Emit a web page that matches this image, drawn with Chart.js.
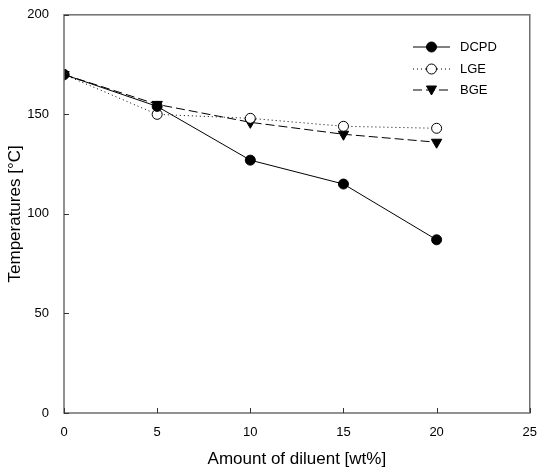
<!DOCTYPE html>
<html>
<head>
<meta charset="utf-8">
<script src="https://cdn.jsdelivr.net/npm/chart.js@4/dist/chart.umd.min.js"></script>
<style>
  html, body { margin: 0; padding: 0; background: #fff; }
  #wrap { width: 541px; height: 474px; }
</style>
</head>
<body>
<div id="wrap"><canvas id="chart" width="541" height="474"></canvas></div>
<script>
// 数据
const amounts = [0, 5, 10, 15, 20];
const dcpd = [170, 154, 127, 115, 87];
const lge = [170, 150, 148, 144, 143];
const bge = [170, 155, 146, 140, 136];
const xTicks = [0, 5, 10, 15, 20, 25];
const yTicks = [0, 50, 100, 150, 200];

const FONT = 'Liberation Sans, Arial, sans-serif';
const AXIS = '#6e6e6e';

const toXY = (ys) => amounts.map((x, i) => ({ x: x, y: ys[i] }));

// 坐标框和向内刻度
const framePlugin = {
    id: 'frame',
    afterDraw(chart) {
        const { ctx, chartArea: a, scales } = chart;
        ctx.save();
        ctx.strokeStyle = AXIS;
        ctx.lineWidth = 1.5;
        ctx.strokeRect(a.left, a.top, a.right - a.left, a.bottom - a.top);
        ctx.lineWidth = 1;
        ctx.strokeStyle = '#333';
        xTicks.forEach(v => {
            const px = Math.round(scales.x.getPixelForValue(v)) + 0.5;
            ctx.beginPath();
            ctx.moveTo(px, a.bottom);
            ctx.lineTo(px, a.bottom - 5);
            ctx.stroke();
        });
        yTicks.forEach(v => {
            const py = Math.round(scales.y.getPixelForValue(v)) + 0.5;
            ctx.beginPath();
            ctx.moveTo(a.left, py);
            ctx.lineTo(a.left + 5, py);
            ctx.stroke();
        });
        ctx.restore();
    }
};

// 图例（线 + 标记）
const legendPlugin = {
    id: 'customLegend',
    afterDatasetsDraw(chart) {
        const { ctx } = chart;
        const x0 = 413, x1 = 450, rows = [47, 69, 90];
        ctx.save();
        chart.data.datasets.forEach((ds, i) => {
            const y = rows[i];
            ctx.strokeStyle = '#000';
            ctx.lineWidth = 1;
            ctx.setLineDash(ds.borderDash || []);
            ctx.beginPath();
            ctx.moveTo(x0, y);
            ctx.lineTo(x1, y);
            ctx.stroke();
            ctx.setLineDash([]);
            const cx = (x0 + x1) / 2;
            ctx.fillStyle = ds.pointBackgroundColor;
            ctx.strokeStyle = '#000';
            ctx.beginPath();
            if (ds.pointStyle === 'triangle') {
                ctx.moveTo(cx - 5, y - 4);
                ctx.lineTo(cx + 5, y - 4);
                ctx.lineTo(cx, y + 5);
                ctx.closePath();
            } else {
                ctx.arc(cx, y, 5, 0, Math.PI * 2);
            }
            ctx.fill();
            ctx.stroke();
            ctx.fillStyle = '#000';
            ctx.font = '13px ' + FONT;
            ctx.textBaseline = 'middle';
            ctx.fillText(ds.label, 460, y);
        });
        ctx.restore();
    }
};

new Chart(document.getElementById('chart').getContext('2d'), {
    type: 'line',
    data: {
        datasets: [
            {
                label: 'DCPD',
                data: toXY(dcpd),
                borderColor: '#000',
                borderWidth: 1,
                pointStyle: 'circle',
                pointRadius: 5,
                pointBackgroundColor: '#000',
                pointBorderColor: '#000',
            },
            {
                label: 'LGE',
                data: toXY(lge),
                borderColor: '#000',
                borderWidth: 1,
                borderDash: [1, 3],
                pointStyle: 'circle',
                pointRadius: 5,
                pointBackgroundColor: '#fff',
                pointBorderColor: '#000',
            },
            {
                label: 'BGE',
                data: toXY(bge),
                borderColor: '#000',
                borderWidth: 1,
                borderDash: [9, 4],
                pointStyle: 'triangle',
                pointRotation: 180,
                pointRadius: 6,
                pointBackgroundColor: '#000',
                pointBorderColor: '#000',
            },
        ],
    },
    options: {
        responsive: false,
        animation: false,
        layout: { padding: { left: 0, right: 8, top: 14, bottom: 0 } },
        plugins: {
            legend: { display: false },
            tooltip: { enabled: false },
        },
        scales: {
            x: {
                type: 'linear',
                min: 0,
                max: 25,
                afterBuildTicks: (s) => { s.ticks = xTicks.map(v => ({ value: v })); },
                afterFit: (s) => { s.height = 61; },
                grid: { display: false },
                border: { display: false },
                ticks: { color: '#000', padding: 4, font: { family: FONT, size: 13 }, maxRotation: 0 },
                title: {
                    display: true,
                    text: 'Amount of diluent [wt%]',
                    color: '#000',
                    font: { family: FONT, size: 17 },
                    padding: { top: 10, bottom: 4 },
                },
            },
            y: {
                type: 'linear',
                min: 0,
                max: 200,
                afterBuildTicks: (s) => { s.ticks = yTicks.map(v => ({ value: v })); },
                afterFit: (s) => { s.width = 64; },
                grid: { display: false },
                border: { display: false },
                ticks: { color: '#000', padding: 7, font: { family: FONT, size: 13 } },
                title: {
                    display: true,
                    text: 'Temperatures [°C]',
                    color: '#000',
                    font: { family: FONT, size: 17 },
                    padding: { top: 5, bottom: 4 },
                },
            },
        },
    },
    plugins: [framePlugin, legendPlugin],
});
</script>
</body>
</html>
